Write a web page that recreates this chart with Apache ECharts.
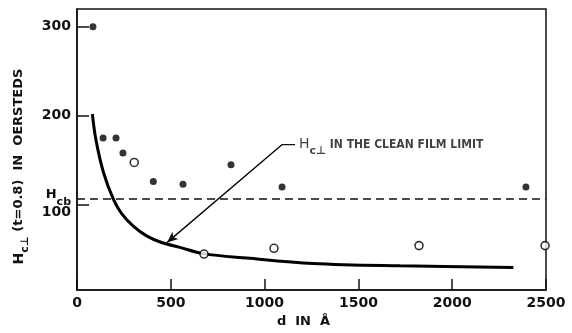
<!DOCTYPE html>
<html>
<head>
<meta charset="utf-8">
<script src="https://cdn.jsdelivr.net/npm/echarts@6/dist/echarts.min.js"></script>
<style>
  html, body { margin: 0; padding: 0; background: #fff; }
  #chart { width: 572px; height: 333px; }
</style>
</head>
<body>
<div id="chart"></div>
<script>
// Critical field H_c⊥ (t = 0.8) versus film thickness d
const filledD = [85, 139, 208, 245, 407, 565, 821, 1093, 2393];
const filledH = [300, 175, 175, 158, 126, 123, 145, 120, 120];
const openD = [305, 677, 1050, 1823, 2495];
const openH = [147.5, 44.5, 51, 54, 54];
// clean film limit curve
const curveD = [82, 100, 140, 193, 238, 300, 371, 451, 549, 673, 906, 1258, 1722, 2326];
const curveH = [202, 174, 137, 106.5, 90, 76, 65, 57.5, 52, 45, 40, 34, 31.3, 29.5];
// bulk critical field
const hcb = 106.5;
// leader from the label to the curve
const leaderD = [1162, 1093, 480];
const leaderH = [167.5, 167.5, 57.5];
const xTicks = [0, 500, 1000, 1500, 2000, 2500];
const yTicks = [100, 200, 300];

const FONT = 'DejaVu Sans';
const NARROW = '"Liberation Sans Narrow", "DejaVu Sans Condensed", "Liberation Sans", sans-serif';
const zip = (a, b) => a.map((v, i) => [v, b[i]]);

const chart = echarts.init(document.getElementById('chart'), null, { renderer: 'canvas' });

chart.setOption({
  animation: false,
  backgroundColor: '#fff',
  grid: {
    left: 77, right: 26, top: 9, bottom: 34,
    show: true, borderColor: '#111', borderWidth: 1.5, backgroundColor: 'transparent'
  },
  xAxis: {
    type: 'value', min: 0, max: 2500, interval: 500,
    axisLine: { lineStyle: { color: '#111', width: 1.5 } },
    axisTick: { inside: true, length: 11, lineStyle: { color: '#111', width: 1.5 } },
    axisLabel: {
      color: '#111', fontFamily: FONT, fontSize: 14, fontWeight: 'bold', margin: 6,
      customValues: xTicks, showMinLabel: true, showMaxLabel: true,
      formatter: v => String(v)
    },
    splitLine: { show: false },
    name: 'd  IN  Å',
    nameLocation: 'middle', nameGap: 19,
    nameTextStyle: { color: '#111', fontFamily: FONT, fontSize: 13, fontWeight: 'bold', padding: [0, 16, 0, 0] }
  },
  yAxis: {
    type: 'value', min: 4, max: 320,
    axisLine: { lineStyle: { color: '#111', width: 1.5 } },
    axisTick: { inside: true, length: 12, customValues: yTicks, lineStyle: { color: '#111', width: 1.5 } },
    axisLabel: {
      customValues: yTicks, margin: 6,
      color: '#111', fontFamily: FONT, fontSize: 14, fontWeight: 'bold',
      formatter: v => (v === 100 ? '{lo|100}' : String(v)),
      rich: { lo: { fontFamily: FONT, fontSize: 14, fontWeight: 'bold', color: '#111', padding: [15, 0, 0, 0] } }
    },
    splitLine: { show: false },
    name: '{h|H}{s|c⊥}{t| (t=0.8)  IN  OERSTEDS}',
    nameLocation: 'middle', nameRotate: 90, nameGap: 46,
    nameTextStyle: {
      padding: [0, 34, 0, 0],
      rich: {
        h: { fontFamily: FONT, fontSize: 14, fontWeight: 'bold', color: '#111', lineHeight: 24, verticalAlign: 'middle' },
        s: { fontFamily: FONT, fontSize: 11, fontWeight: 'bold', color: '#111', lineHeight: 24, verticalAlign: 'bottom' },
        t: { fontFamily: FONT, fontSize: 13, fontWeight: 'bold', color: '#111', lineHeight: 24, verticalAlign: 'middle' }
      }
    }
  },
  series: [
    {
      name: 'clean film limit',
      type: 'line',
      data: zip(curveD, curveH),
      smooth: 0.35,
      showSymbol: false, symbol: 'none',
      lineStyle: { color: '#000', width: 3 },
      z: 3,
      markLine: {
        silent: true, symbol: 'none',
        lineStyle: { color: '#111', width: 1.6, type: [8, 5] },
        label: {
          show: true, position: 'start', distance: 6,
          formatter: '{h|H}{s|cb}',
          rich: {
            h: { fontFamily: FONT, fontSize: 13, fontWeight: 'bold', color: '#111', lineHeight: 20, verticalAlign: 'top' },
            s: { fontFamily: FONT, fontSize: 11, fontWeight: 'bold', color: '#111', lineHeight: 20, verticalAlign: 'bottom' }
          },
          padding: [0, 0, 2, 0]
        },
        data: [{ yAxis: hcb }]
      }
    },
    {
      name: 'leader',
      type: 'line',
      data: zip(leaderD, leaderH),
      showSymbol: false, symbol: 'none',
      lineStyle: { color: '#111', width: 1.2 },
      z: 4,
      markLine: {
        silent: true,
        symbol: ['none', 'arrow'], symbolSize: [7, 11],
        lineStyle: { color: '#111', width: 1.2, type: 'solid' },
        label: { show: false },
        data: [[{ coord: [leaderD[1], leaderH[1]] }, { coord: [leaderD[2], leaderH[2]] }]]
      }
    },
    {
      name: 'label',
      type: 'scatter',
      data: [[leaderD[0], leaderH[0]]],
      symbolSize: 0,
      z: 5,
      label: {
        show: true, position: 'right', distance: 4,
        formatter: '{h|H}{s|c⊥}{t| IN THE CLEAN FILM LIMIT}',
        rich: {
          h: { fontFamily: FONT, fontSize: 14, color: '#111', lineHeight: 24, verticalAlign: 'middle' },
          s: { fontFamily: FONT, fontSize: 11, fontWeight: 'bold', color: '#111', lineHeight: 24, verticalAlign: 'bottom' },
          t: { fontFamily: NARROW, fontSize: 12, fontWeight: 'bold', color: '#111', lineHeight: 24, verticalAlign: 'middle' }
        }
      }
    },
    {
      name: 'filled',
      type: 'scatter',
      data: zip(filledD, filledH),
      symbol: 'circle', symbolSize: 7,
      itemStyle: { color: '#000' },
      z: 6
    },
    {
      name: 'open',
      type: 'scatter',
      data: zip(openD, openH),
      symbol: 'circle', symbolSize: 8,
      itemStyle: { color: '#fff', borderColor: '#000', borderWidth: 1.6 },
      z: 6
    }
  ]
});
</script>
</body>
</html>
